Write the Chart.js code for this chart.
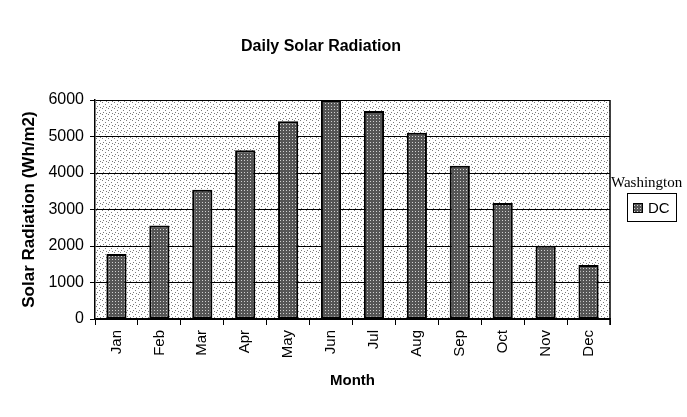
<!DOCTYPE html>
<html>
<head>
<meta charset="utf-8">
<script src="https://cdn.jsdelivr.net/npm/chart.js@4.4.1/dist/chart.umd.min.js"></script>
<style>
  html, body { margin: 0; padding: 0; background: #fff; }
  #wrap { width: 687px; height: 417px; }
</style>
</head>
<body>
<div id="wrap"><canvas id="solarChart" width="687" height="417"></canvas></div>
<script>
const months = ['Jan', 'Feb', 'Mar', 'Apr', 'May', 'Jun', 'Jul', 'Aug', 'Sep', 'Oct', 'Nov', 'Dec'];
const dcRadiation = [1780, 2560, 3540, 4620, 5420, 6000, 5700, 5100, 4200, 3180, 2010, 1480];
const yTicks = [0, 1000, 2000, 3000, 4000, 5000, 6000];
const chartTitle = 'Daily Solar Radiation';
const seriesGroup = 'Washington';
const seriesName = 'DC';

// stippled fills, old-printer style
function makePattern(bg, dot, size, dots) {
  const c = document.createElement('canvas');
  c.width = size; c.height = size;
  const g = c.getContext('2d');
  g.fillStyle = bg;
  g.fillRect(0, 0, size, size);
  g.fillStyle = dot;
  dots.forEach(([x, y]) => g.fillRect(x, y, 1, 1));
  return g.createPattern(c, 'repeat');
}

const ctx = document.getElementById('solarChart').getContext('2d');
const plotFill = makePattern('#ffffff', '#7a7a7a', 6, [[0, 0], [3, 2], [1, 4], [4, 5]]);
const barFill = makePattern('#555555', '#d0d0d0', 3, [[1, 1]]);

const plotBackground = {
  id: 'plotBackground',
  beforeDraw(chart) {
    const { ctx, chartArea: a } = chart;
    ctx.save();
    ctx.fillStyle = plotFill;
    ctx.fillRect(a.left, a.top, a.right - a.left, a.bottom - a.top);
    ctx.restore();
  },
  afterDatasetsDraw(chart) {
    const { ctx, chartArea: a } = chart;
    ctx.save();
    ctx.strokeStyle = '#000';
    ctx.lineWidth = 1.5;
    ctx.beginPath();
    ctx.moveTo(a.right, a.top);
    ctx.lineTo(a.right, a.bottom + 6);
    ctx.stroke();
    ctx.restore();
  }
};

// title sits a little right of the plot centre, so draw it by hand
const titleAndLegend = {
  id: 'titleAndLegend',
  afterDraw(chart) {
    const { ctx } = chart;
    const ds = chart.data.datasets[0];
    ctx.save();
    ctx.fillStyle = '#000';
    ctx.textAlign = 'center';
    ctx.textBaseline = 'middle';
    ctx.font = 'bold 16px "Liberation Sans"';
    ctx.fillText(chartTitle, 321, 47);

    ctx.textAlign = 'left';
    ctx.textBaseline = 'alphabetic';
    ctx.font = '15px "Liberation Serif"';
    ctx.fillText(seriesGroup, 611, 187);
    ctx.strokeStyle = '#000';
    ctx.lineWidth = 1;
    ctx.strokeRect(627.5, 193.5, 49, 28);
    ctx.fillStyle = ds.backgroundColor;
    ctx.fillRect(633, 203, 10, 10);
    ctx.strokeRect(633.5, 203.5, 9, 9);
    ctx.fillStyle = '#000';
    ctx.font = '15px "Liberation Sans"';
    ctx.fillText(ds.label, 648, 213);
    ctx.restore();
  }
};

new Chart(ctx, {
  type: 'bar',
  data: {
    labels: months,
    datasets: [{
      label: seriesName,
      data: dcRadiation,
      backgroundColor: barFill,
      borderColor: '#000',
      borderWidth: 2,
      borderSkipped: false,
      categoryPercentage: 1,
      barPercentage: 0.47
    }]
  },
  options: {
    responsive: false,
    animation: false,
    devicePixelRatio: 1,
    layout: { padding: { left: 0, right: 77, top: 100, bottom: 0 } },
    plugins: {
      legend: { display: false },
      tooltip: { enabled: false },
      title: { display: false }
    },
    scales: {
      x: {
        offset: true,
        afterFit(axis) { axis.height = 98; },
        grid: {
          offset: true,
          drawOnChartArea: false,
          color: '#000',
          tickLength: 6,
          tickColor: '#000'
        },
        border: { color: '#000', width: 1.5 },
        ticks: {
          color: '#000',
          font: { family: 'Liberation Sans', size: 15 },
          minRotation: 90,
          maxRotation: 90,
          padding: 5
        },
        title: {
          display: true,
          text: 'Month',
          color: '#000',
          font: { family: 'Liberation Sans', size: 15, weight: 'bold' },
          padding: { top: 0, bottom: 27 }
        }
      },
      y: {
        min: 0,
        max: 6000,
        afterFit(axis) { axis.width = 95; },
        afterBuildTicks(axis) {
          axis.ticks = yTicks.map(v => ({ value: v }));
        },
        grid: {
          color: '#000',
          lineWidth: 1,
          tickLength: 5,
          tickColor: '#000'
        },
        border: { color: '#000', width: 1.5 },
        ticks: {
          color: '#000',
          font: { family: 'Liberation Sans', size: 16 },
          padding: 6,
          callback: v => String(v)
        },
        title: {
          display: true,
          text: 'Solar Radiation (Wh/m2)',
          color: '#000',
          font: { family: 'Liberation Sans', size: 17, weight: 'bold' },
          padding: { top: 19, bottom: 0 }
        }
      }
    }
  },
  plugins: [plotBackground, titleAndLegend]
});
</script>
</body>
</html>
